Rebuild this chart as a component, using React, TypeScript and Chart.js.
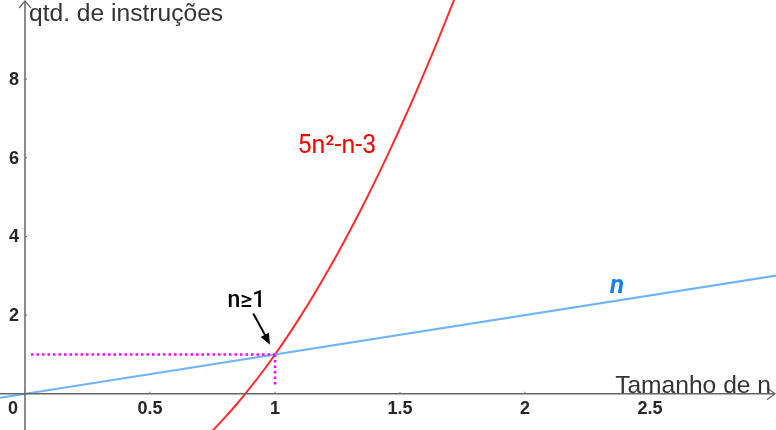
import React, { useEffect, useRef } from "react";
import { Chart, registerables } from "chart.js";

Chart.register(...registerables);

// Red curve samples: 5n²-n-3
const redN = [0.75, 0.8, 0.85, 0.9, 0.95, 1.0, 1.05, 1.1, 1.15, 1.2, 1.25, 1.3, 1.35, 1.4, 1.45, 1.5, 1.55, 1.6, 1.65, 1.7, 1.75];
const redY = [-0.94, -0.6, -0.24, 0.15, 0.56, 1, 1.46, 1.95, 2.46, 3, 3.56, 4.15, 4.76, 5.4, 6.06, 6.75, 7.46, 8.2, 8.96, 9.75, 10.56];
// Blue line: n
const blueN = [-0.1, 3.1];
const blueY = [-0.1, 3.1];
// Magenta guides
const guideHN = [0.024, 1];
const guideHY = [1, 1];
const guideVN = [1, 1];
const guideVY = [1, 0.17];

const xTicks = [0.5, 1, 1.5, 2, 2.5];
const xTickLabels = ["0.5", "1", "1.5", "2", "2.5"];
const yTicks = [2, 4, 6, 8];
const yTickLabels = ["2", "4", "6", "8"];

const xAxisTitle = "Tamanho de n";
const yAxisTitle = "qtd. de instruções";
const redLabel = "5n²-n-3";
const blueLabel = "n";
const noteLabel = "n≥1";

const zip = (a: number[], b: number[]) => a.map((x, i) => ({ x, y: b[i] }));

const overlay = {
  id: "overlay",
  afterDatasetsDraw(chart: any) {
    const ctx = chart.ctx;
    const xs = chart.scales.x;
    const ys = chart.scales.y;
    const W = chart.width;
    const H = chart.height;
    const ox = xs.getPixelForValue(0);
    const oy = ys.getPixelForValue(0);
    ctx.save();
    // axes
    ctx.strokeStyle = "#666666";
    ctx.lineWidth = 1.5;
    ctx.beginPath();
    ctx.moveTo(0, oy);
    ctx.lineTo(W - 1, oy);
    ctx.moveTo(ox, H);
    ctx.lineTo(ox, 1);
    ctx.stroke();
    // arrows
    ctx.lineWidth = 1.2;
    ctx.beginPath();
    ctx.moveTo(W - 9, oy - 6);
    ctx.lineTo(W - 1, oy);
    ctx.lineTo(W - 9, oy + 6);
    ctx.moveTo(ox - 6, 8);
    ctx.lineTo(ox, 1);
    ctx.lineTo(ox + 6, 8);
    ctx.stroke();
    // tick marks
    ctx.lineWidth = 1;
    ctx.beginPath();
    xTicks.forEach((v) => {
      const px = xs.getPixelForValue(v);
      ctx.moveTo(px, oy - 2);
      ctx.lineTo(px, oy);
    });
    yTicks.forEach((v) => {
      const py = ys.getPixelForValue(v);
      ctx.moveTo(ox, py);
      ctx.lineTo(ox + 2, py);
    });
    ctx.stroke();
    // tick labels
    ctx.fillStyle = "#262626";
    ctx.font = "bold 18px 'Liberation Sans', Arial, sans-serif";
    ctx.textAlign = "center";
    ctx.textBaseline = "middle";
    xTicks.forEach((v, i) => {
      ctx.fillText(xTickLabels[i], xs.getPixelForValue(v), oy + 15);
    });
    ctx.fillText("0", ox - 12, oy + 15);
    ctx.textAlign = "right";
    yTicks.forEach((v, i) => {
      ctx.fillText(yTickLabels[i], ox - 6, ys.getPixelForValue(v) + 1);
    });
    // axis titles
    ctx.fillStyle = "#333333";
    ctx.font = "24.6px 'Liberation Sans', Arial, sans-serif";
    ctx.textBaseline = "alphabetic";
    ctx.textAlign = "left";
    ctx.fillText(yAxisTitle, ox + 4, 21);
    ctx.textAlign = "right";
    ctx.fillText(xAxisTitle, W - 5, oy - 1);
    // curve labels
    ctx.textAlign = "left";
    ctx.fillStyle = "#ff0000";
    ctx.font = "25px Roboto, sans-serif";
    ctx.fillText(redLabel, xs.getPixelForValue(1.09), ys.getPixelForValue(6.12));
    ctx.fillStyle = "#1a7ff0";
    ctx.font = "italic bold 26px Roboto, sans-serif";
    ctx.fillText(blueLabel, xs.getPixelForValue(2.34), ys.getPixelForValue(2.56));
    ctx.fillStyle = "#000000";
    ctx.font = "500 23px Roboto, sans-serif";
    ctx.fillText(noteLabel, xs.getPixelForValue(0.81), ys.getPixelForValue(2.2));
    // note arrow
    const ax0 = xs.getPixelForValue(0.913), ay0 = ys.getPixelForValue(2.04);
    const ax1 = xs.getPixelForValue(0.98), ay1 = ys.getPixelForValue(1.25);
    ctx.strokeStyle = "#000000";
    ctx.lineWidth = 2;
    ctx.beginPath();
    ctx.moveTo(ax0, ay0);
    ctx.lineTo(ax1 - 3, ay1 - 6);
    ctx.stroke();
    const ang = Math.atan2(ay1 - ay0, ax1 - ax0);
    ctx.fillStyle = "#000000";
    ctx.beginPath();
    ctx.moveTo(ax1, ay1);
    ctx.lineTo(ax1 - 12 * Math.cos(ang - 0.4), ay1 - 12 * Math.sin(ang - 0.4));
    ctx.lineTo(ax1 - 12 * Math.cos(ang + 0.4), ay1 - 12 * Math.sin(ang + 0.4));
    ctx.closePath();
    ctx.fill();
    ctx.restore();
  },
};

export default function App() {
  const ref = useRef<HTMLCanvasElement | null>(null);
  useEffect(() => {
    if (!ref.current) return;
    const chart = new Chart(ref.current, {
      type: "scatter",
      data: {
        datasets: [
          {
            data: zip(guideHN, guideHY),
            showLine: true,
            borderColor: "#ff00ff",
            borderWidth: 2.5,
            borderDash: [2.5, 3],
            pointRadius: 0,
          },
          {
            data: zip(guideVN, guideVY),
            showLine: true,
            borderColor: "#ff00ff",
            borderWidth: 2.5,
            borderDash: [2.5, 3],
            pointRadius: 0,
          },
          {
            data: zip(blueN, blueY),
            showLine: true,
            borderColor: "#6eb4f7",
            borderWidth: 2,
            pointRadius: 0,
          },
          {
            data: zip(redN, redY),
            showLine: true,
            borderColor: "#ff2b2b",
            borderWidth: 2,
            pointRadius: 0,
            cubicInterpolationMode: "monotone",
          },
        ],
      },
      options: {
        responsive: false,
        animation: false,
        events: [],
        layout: { padding: 0 },
        plugins: { legend: { display: false }, tooltip: { enabled: false } },
        scales: {
          x: { type: "linear", min: -0.1, max: 3.004, display: false },
          y: { type: "linear", min: -0.92, max: 10.01, display: false },
        },
      },
      plugins: [overlay],
    } as any);
    return () => chart.destroy();
  }, []);
  return (
    <div style={{ position: "absolute", left: 0, top: 0, width: 776, height: 430, background: "#fff" }}>
      <canvas ref={ref} width={776} height={430} style={{ display: "block" }} />
    </div>
  );
}
